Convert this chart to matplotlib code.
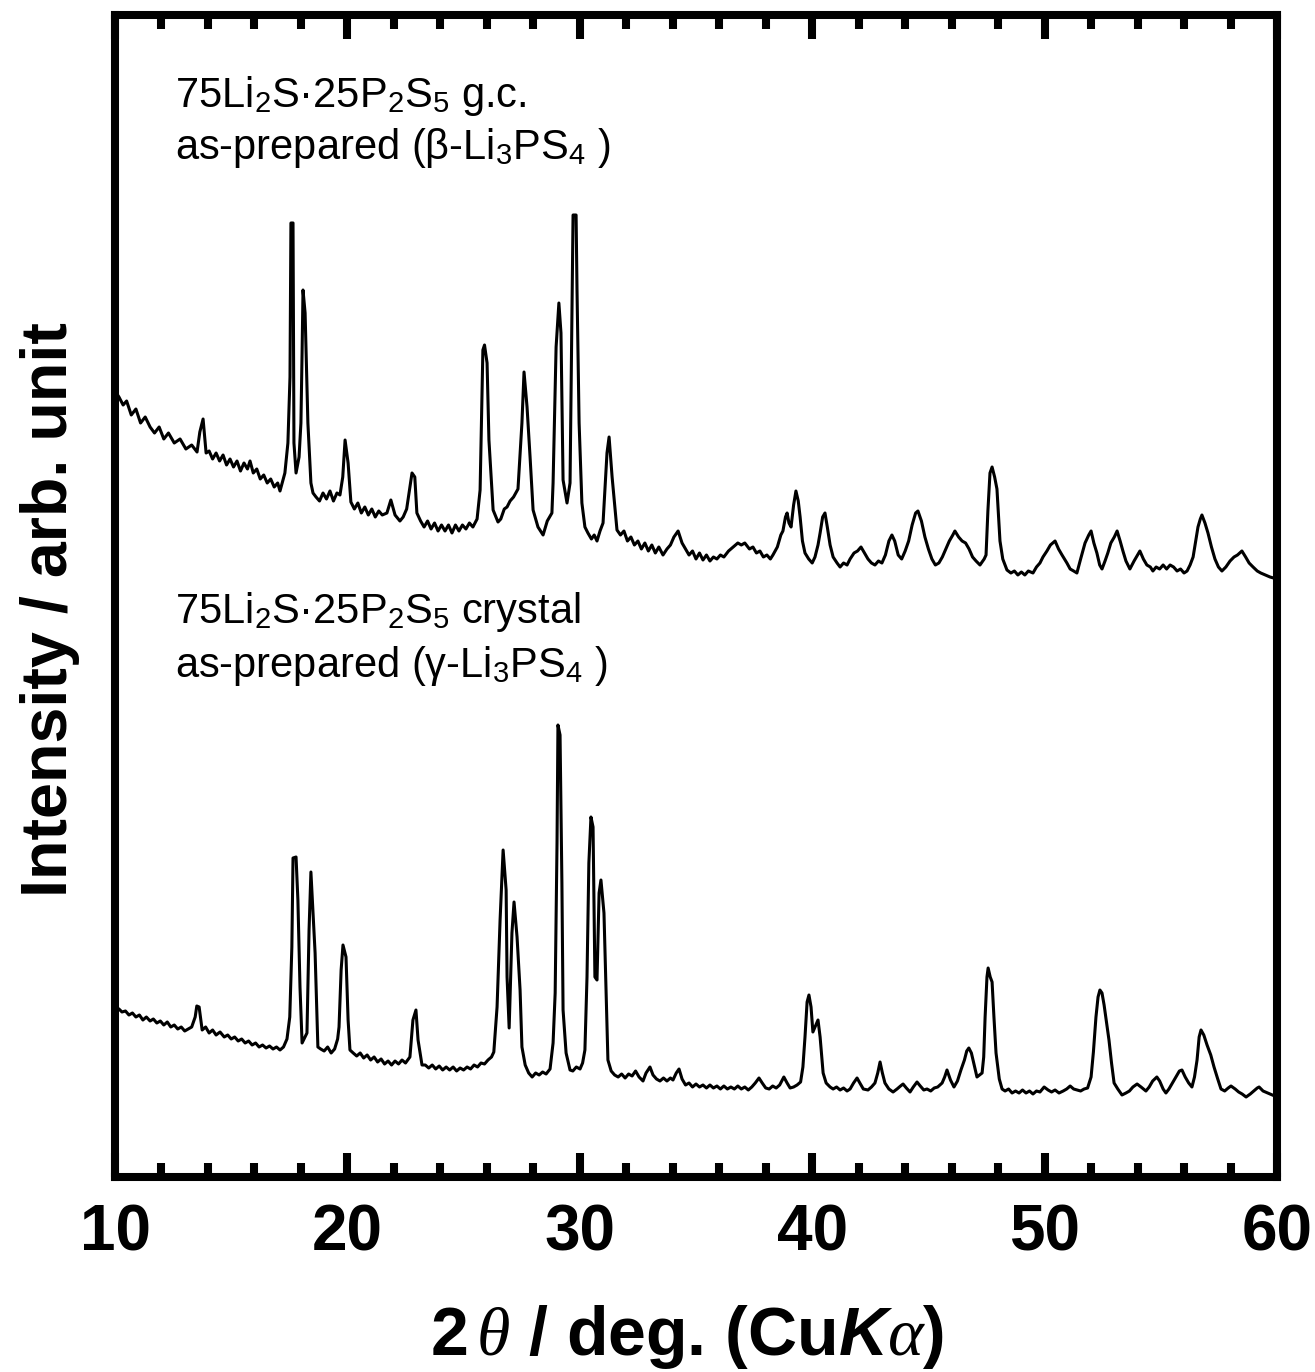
import matplotlib
matplotlib.use('Agg')
import matplotlib.pyplot as plt
from matplotlib.ticker import MultipleLocator

# 75Li2S-25P2S5 glass-ceramic (beta-Li3PS4)
gc_2theta = [10.00, 10.17, 10.35, 10.50, 10.70, 10.90, 11.10, 11.30, 11.51, 11.70,
             11.90, 12.10, 12.30, 12.55, 12.80, 13.05, 13.30, 13.53, 13.65, 13.79,
             13.92, 14.05, 14.20, 14.35, 14.50, 14.65, 14.80, 14.95, 15.10, 15.25,
             15.40, 15.55, 15.70, 15.81, 15.95, 16.10, 16.25, 16.40, 16.55, 16.70,
             16.85, 17.00, 17.10, 17.31, 17.44, 17.53, 17.57, 17.66, 17.70, 17.79,
             17.92, 18.00, 18.05, 18.09, 18.18, 18.30, 18.43, 18.52, 18.65, 18.80,
             18.95, 19.10, 19.25, 19.40, 19.55, 19.68, 19.80, 19.90, 20.03, 20.15,
             20.30, 20.45, 20.60, 20.75, 20.90, 21.05, 21.20, 21.35, 21.50, 21.70,
             21.87, 22.05, 22.26, 22.40, 22.55, 22.78, 22.90, 22.99, 23.15, 23.30,
             23.45, 23.60, 23.75, 23.90, 24.05, 24.20, 24.35, 24.50, 24.65, 24.80,
             24.95, 25.10, 25.25, 25.40, 25.58, 25.71, 25.83, 25.90, 26.01, 26.09,
             26.27, 26.48, 26.60, 26.75, 26.87, 27.00, 27.15, 27.34, 27.51, 27.60,
             27.73, 27.86, 27.99, 28.20, 28.42, 28.60, 28.80, 28.85, 28.98, 29.10,
             29.19, 29.28, 29.45, 29.58, 29.66, 29.71, 29.84, 29.88, 29.97, 30.09,
             30.22, 30.35, 30.50, 30.62, 30.74, 30.87, 31.00, 31.17, 31.26, 31.39,
             31.60, 31.75, 31.90, 32.05, 32.20, 32.35, 32.50, 32.65, 32.80, 32.95,
             33.10, 33.25, 33.40, 33.58, 33.75, 33.90, 34.05, 34.23, 34.40, 34.55,
             34.70, 34.85, 35.00, 35.15, 35.30, 35.45, 35.60, 35.75, 35.90, 36.05,
             36.20, 36.40, 36.60, 36.80, 36.95, 37.10, 37.30, 37.45, 37.60, 37.75,
             37.90, 38.05, 38.20, 38.31, 38.50, 38.65, 38.74, 38.85, 38.92, 39.00,
             39.09, 39.20, 39.30, 39.40, 39.48, 39.58, 39.69, 39.85, 40.00, 40.12,
             40.25, 40.34, 40.45, 40.55, 40.65, 40.77, 40.90, 41.07, 41.20, 41.35,
             41.50, 41.63, 41.80, 41.95, 42.10, 42.25, 42.40, 42.55, 42.70, 42.85,
             43.00, 43.15, 43.30, 43.43, 43.55, 43.70, 43.85, 44.00, 44.15, 44.30,
             44.45, 44.55, 44.70, 44.85, 45.00, 45.15, 45.30, 45.45, 45.60, 45.75,
             45.90, 46.05, 46.14, 46.30, 46.45, 46.60, 46.75, 46.90, 47.05, 47.22,
             47.40, 47.48, 47.56, 47.65, 47.74, 47.85, 47.95, 48.08, 48.20, 48.38,
             48.55, 48.70, 48.85, 49.00, 49.15, 49.30, 49.50, 49.65, 49.80, 49.93,
             50.10, 50.25, 50.45, 50.60, 50.75, 50.96, 51.10, 51.25, 51.39, 51.55,
             51.74, 51.90, 52.00, 52.12, 52.25, 52.37, 52.47, 52.60, 52.72, 52.85,
             53.00, 53.12, 53.25, 53.37, 53.50, 53.67, 53.85, 54.00, 54.10, 54.25,
             54.40, 54.55, 54.66, 54.80, 54.95, 55.10, 55.25, 55.40, 55.55, 55.70,
             55.85, 56.00, 56.13, 56.26, 56.39, 56.50, 56.60, 56.70, 56.77, 56.90,
             57.03, 57.18, 57.33, 57.48, 57.63, 57.80, 57.98, 58.15, 58.30, 58.49,
             58.65, 58.80, 58.97, 59.15, 59.30, 59.50, 59.70, 60.00]
gc_int = [786, 780, 772, 776, 762, 768, 754, 760, 750, 744,
          750, 738, 744, 734, 738, 728, 732, 725, 745, 758,
          724, 726, 718, 724, 716, 722, 712, 718, 710, 716,
          706, 714, 708, 716, 704, 708, 698, 702, 694, 698,
          690, 694, 686, 704, 734, 800, 954, 954, 734, 704,
          720, 754, 824, 887, 864, 754, 694, 684, 680, 676,
          684, 678, 686, 676, 684, 682, 700, 737, 714, 675,
          668, 674, 664, 670, 662, 668, 660, 666, 662, 664,
          677, 662, 656, 660, 668, 704, 700, 664, 656, 650,
          656, 648, 654, 646, 652, 646, 652, 644, 652, 646,
          652, 648, 654, 650, 658, 687, 827, 832, 814, 737,
          667, 655, 658, 668, 670, 676, 680, 688, 754, 805,
          770, 720, 667, 650, 642, 656, 664, 694, 830, 874,
          844, 697, 674, 694, 857, 962, 962, 887, 754, 674,
          650, 644, 638, 642, 636, 646, 654, 724, 740, 700,
          647, 642, 646, 636, 640, 632, 636, 628, 634, 626,
          632, 624, 630, 622, 628, 632, 640, 646, 634, 628,
          622, 626, 618, 624, 617, 622, 616, 620, 618, 622,
          620, 626, 630, 634, 632, 634, 628, 630, 624, 626,
          620, 622, 618, 622, 630, 642, 646, 660, 664, 654,
          650, 672, 686, 676, 660, 636, 624, 618, 614, 620,
          632, 644, 660, 664, 650, 632, 620, 614, 610, 614,
          612, 618, 624, 626, 630, 624, 618, 614, 612, 616,
          614, 622, 636, 642, 636, 622, 618, 626, 636, 652,
          664, 666, 656, 640, 628, 618, 612, 614, 620, 628,
          636, 642, 646, 640, 636, 634, 628, 620, 616, 612,
          618, 622, 666, 704, 710, 700, 688, 636, 618, 607,
          604, 606, 602, 605, 602, 606, 604, 610, 614, 620,
          626, 632, 636, 628, 622, 614, 608, 606, 604, 618,
          634, 642, 646, 634, 624, 612, 608, 616, 624, 634,
          640, 646, 636, 626, 616, 608, 616, 622, 626, 618,
          612, 610, 606, 610, 608, 612, 608, 612, 610, 606,
          608, 604, 606, 612, 620, 636, 650, 658, 662, 654,
          644, 630, 618, 610, 606, 610, 616, 620, 622, 626,
          620, 614, 610, 606, 604, 602, 600, 598]

# 75Li2S-25P2S5 crystal (gamma-Li3PS4)
cr_2theta = [10.00, 10.17, 10.30, 10.45, 10.60, 10.75, 10.90, 11.05, 11.20, 11.35,
             11.51, 11.65, 11.80, 11.95, 12.10, 12.25, 12.40, 12.55, 12.70, 12.85,
             13.00, 13.15, 13.30, 13.45, 13.52, 13.62, 13.75, 13.90, 14.05, 14.20,
             14.35, 14.52, 14.70, 14.85, 15.00, 15.15, 15.30, 15.45, 15.60, 15.75,
             15.90, 16.05, 16.20, 16.35, 16.50, 16.65, 16.80, 16.95, 17.10, 17.25,
             17.40, 17.52, 17.61, 17.66, 17.79, 17.87, 17.96, 18.05, 18.26, 18.35,
             18.43, 18.61, 18.73, 18.85, 19.00, 19.15, 19.30, 19.45, 19.58, 19.64,
             19.73, 19.81, 19.94, 20.03, 20.11, 20.25, 20.40, 20.55, 20.70, 20.85,
             21.00, 21.15, 21.30, 21.45, 21.60, 21.75, 21.90, 22.05, 22.20, 22.35,
             22.50, 22.69, 22.82, 22.95, 23.04, 23.21, 23.35, 23.50, 23.65, 23.80,
             23.95, 24.10, 24.25, 24.40, 24.55, 24.70, 24.85, 25.00, 25.15, 25.30,
             25.45, 25.60, 25.75, 25.90, 26.05, 26.20, 26.30, 26.44, 26.57, 26.70,
             26.83, 26.87, 26.96, 27.08, 27.17, 27.30, 27.43, 27.51, 27.65, 27.80,
             27.95, 28.10, 28.25, 28.40, 28.55, 28.72, 28.85, 28.94, 29.02, 29.06,
             29.15, 29.23, 29.28, 29.41, 29.58, 29.70, 29.85, 30.01, 30.12, 30.22,
             30.31, 30.39, 30.48, 30.57, 30.65, 30.74, 30.83, 30.91, 31.04, 31.13,
             31.21, 31.35, 31.50, 31.65, 31.80, 31.95, 32.10, 32.25, 32.40, 32.55,
             32.72, 32.85, 33.02, 33.15, 33.30, 33.45, 33.60, 33.75, 33.90, 34.01,
             34.15, 34.27, 34.40, 34.55, 34.70, 34.85, 35.00, 35.15, 35.30, 35.45,
             35.60, 35.75, 35.90, 36.05, 36.20, 36.35, 36.50, 36.65, 36.80, 36.95,
             37.10, 37.25, 37.40, 37.55, 37.71, 37.85, 38.00, 38.15, 38.30, 38.45,
             38.60, 38.78, 38.92, 39.05, 39.20, 39.35, 39.50, 39.60, 39.69, 39.78,
             39.86, 39.95, 40.03, 40.12, 40.25, 40.34, 40.47, 40.60, 40.77, 40.90,
             41.05, 41.20, 41.35, 41.50, 41.63, 41.78, 41.93, 42.05, 42.20, 42.40,
             42.55, 42.70, 42.82, 42.92, 43.02, 43.13, 43.30, 43.48, 43.65, 43.80,
             43.91, 44.05, 44.21, 44.35, 44.51, 44.65, 44.80, 44.94, 45.10, 45.25,
             45.40, 45.59, 45.70, 45.80, 45.95, 46.10, 46.25, 46.40, 46.55, 46.65,
             46.74, 46.85, 46.95, 47.09, 47.20, 47.31, 47.38, 47.44, 47.52, 47.57,
             47.66, 47.74, 47.82, 47.91, 48.05, 48.17, 48.30, 48.45, 48.60, 48.75,
             48.90, 49.05, 49.20, 49.35, 49.50, 49.65, 49.80, 49.98, 50.15, 50.30,
             50.45, 50.62, 50.80, 50.95, 51.10, 51.25, 51.40, 51.55, 51.70, 51.85,
             52.00, 52.10, 52.21, 52.30, 52.38, 52.47, 52.56, 52.66, 52.77, 52.88,
             52.99, 53.15, 53.33, 53.50, 53.65, 53.80, 53.98, 54.15, 54.36, 54.50,
             54.65, 54.83, 54.95, 55.10, 55.22, 55.35, 55.50, 55.65, 55.80, 55.91,
             56.05, 56.20, 56.34, 56.45, 56.56, 56.65, 56.73, 56.85, 56.99, 57.15,
             57.29, 57.45, 57.59, 57.75, 57.90, 58.02, 58.20, 58.35, 58.50, 58.67,
             58.85, 59.00, 59.15, 59.23, 59.40, 59.60, 59.80, 60.00]
cr_int = [170, 168, 165, 166, 162, 164, 160, 162, 157, 160,
          156, 158, 154, 156, 152, 155, 150, 152, 148, 150,
          146, 148, 150, 160, 171, 170, 147, 150, 144, 147,
          142, 145, 140, 142, 138, 140, 136, 138, 134, 136,
          132, 134, 130, 132, 129, 131, 128, 130, 127, 130,
          138, 160, 230, 319, 320, 277, 190, 134, 144, 247,
          305, 224, 130, 128, 126, 130, 124, 128, 138, 150,
          207, 232, 220, 157, 127, 124, 121, 124, 119, 122,
          117, 120, 115, 118, 113, 116, 112, 116, 113, 117,
          114, 120, 157, 167, 137, 112, 112, 109, 112, 108,
          111, 107, 110, 107, 110, 106, 109, 107, 110, 108,
          112, 110, 114, 113, 117, 120, 125, 170, 257, 327,
          287, 200, 149, 244, 275, 240, 187, 130, 112, 104,
          100, 104, 102, 105, 103, 108, 134, 184, 334, 452,
          442, 294, 167, 124, 107, 106, 110, 108, 114, 127,
          200, 314, 360, 350, 200, 197, 284, 297, 264, 187,
          117, 106, 102, 100, 103, 99, 103, 101, 106, 100,
          96, 104, 110, 102, 98, 96, 99, 96, 99, 97,
          104, 108, 98, 92, 94, 90, 93, 90, 92, 89,
          92, 89, 91, 88, 91, 88, 90, 88, 91, 88,
          90, 87, 90, 94, 99, 94, 89, 88, 91, 89,
          92, 100, 94, 89, 90, 92, 95, 110, 140, 175,
          182, 170, 145, 150, 157, 140, 104, 94, 90, 88,
          90, 87, 89, 86, 88, 94, 99, 94, 88, 87,
          90, 94, 104, 115, 104, 94, 88, 85, 88, 91,
          93, 89, 85, 90, 95, 91, 87, 88, 86, 89,
          90, 94, 100, 107, 97, 90, 96, 107, 117, 126,
          129, 124, 114, 100, 102, 104, 120, 160, 200, 209,
          200, 195, 160, 124, 98, 88, 86, 88, 84, 86,
          84, 87, 84, 86, 83, 86, 85, 90, 87, 85,
          87, 84, 86, 88, 91, 88, 87, 86, 88, 89,
          100, 125, 160, 180, 187, 184, 172, 155, 137, 114,
          94, 88, 82, 84, 86, 90, 93, 90, 86, 90,
          96, 100, 96, 88, 84, 88, 94, 100, 106, 107,
          100, 94, 90, 100, 117, 140, 147, 142, 132, 122,
          110, 98, 88, 86, 89, 91, 88, 85, 83, 80,
          83, 86, 89, 90, 86, 84, 82, 80]

plt.rcParams['font.family'] = ['Liberation Sans', 'DejaVu Sans']
plt.rcParams['mathtext.fontset'] = 'custom'
plt.rcParams['mathtext.rm'] = 'Liberation Sans'
plt.rcParams['mathtext.it'] = 'Liberation Serif:italic'
plt.rcParams['mathtext.bf'] = 'Liberation Sans:bold'
plt.rcParams['mathtext.sf'] = 'Liberation Sans:bold:italic'

fig = plt.figure(figsize=(13.15, 13.72), dpi=100)
ax = fig.add_axes([115 / 1315, 195 / 1372, 1162 / 1315, 1162 / 1372])

ax.plot(gc_2theta, gc_int, color='black', lw=2.2)
ax.plot(cr_2theta, cr_int, color='black', lw=2.2)

ax.set_xlim(10, 60)
ax.set_ylim(0, 1162)

for sp in ax.spines.values():
    sp.set_linewidth(5.8)

ax.xaxis.set_major_locator(MultipleLocator(10))
ax.xaxis.set_minor_locator(MultipleLocator(2))
ax.set_yticks([])
ax.tick_params(axis='x', which='major', direction='in', top=True, length=17, width=5.8, pad=19)
ax.tick_params(axis='x', which='minor', direction='in', top=True, length=10, width=5.8)
for lab in ax.get_xticklabels():
    lab.set_fontsize(46)
    lab.set_fontweight('bold')

ax.set_xlabel(r'2$\,\theta$ / deg. (Cu$\mathsf{K}\alpha$)', fontsize=49, fontweight='bold', va='baseline')
ax.xaxis.set_label_coords(0.492, -0.153)
ax.set_ylabel('Intensity / arb. unit', fontsize=46.5, fontweight='bold', va='center')
ax.yaxis.set_label_coords(-0.056, 0.488)

# sample labels
fs = 30
ax.text(12.58, 1070, r'75Li$_2$S·25P$_2$S$_5$ g.c.', fontsize=fs, va='baseline')
ax.text(12.58, 1018, r'as-prepared (β-Li$_3$PS$_4$ )', fontsize=fs, va='baseline')
ax.text(12.58, 554, r'75Li$_2$S·25P$_2$S$_5$ crystal', fontsize=fs, va='baseline')
ax.text(12.58, 500, r'as-prepared (γ-Li$_3$PS$_4$ )', fontsize=fs, va='baseline')

fig.savefig('out.png', dpi=100)
